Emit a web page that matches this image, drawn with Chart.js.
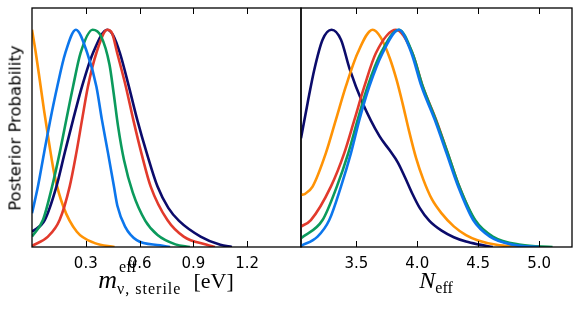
<!DOCTYPE html>
<html>
<head>
<meta charset="utf-8">
<script src="https://cdn.jsdelivr.net/npm/chart.js@4.4.1/dist/chart.umd.min.js"></script>
<style>
  body { margin: 0; background: #fff; }
  #wrap { position: relative; width: 581px; height: 312px; overflow: hidden; }
  #wrap canvas { position: absolute; left: 0; top: 0; }
  .ylab { position: absolute; left: 15px; top: 128px; font-family: "DejaVu Sans"; font-size: 16.5px; color: #000;
          white-space: nowrap; transform: translate(-50%, -50%) rotate(-90deg); }
  .xlab { position: absolute; top: 268px; font-family: "Liberation Serif"; font-size: 24px; line-height: 24px;
          color: #000; white-space: nowrap; transform: translateX(-50%); }
  .m { font-size: 26px; }
  .ss { display: inline-block; position: relative; font-size: 16px; line-height: 16px; }
  .ss .sub { position: relative; top: 6px; letter-spacing: 1px; }
  .ss .sup { position: absolute; left: 2px; top: -16px; }
  .sub2 { position: relative; top: 5px; font-size: 16px; }
  .ev { margin-left: 12px; font-size: 22px; }
</style>
</head>
<body>
<div id="wrap">
  <canvas id="canvas1" width="581" height="312"></canvas>
  <canvas id="canvas2" width="581" height="312"></canvas>
  <div class="ylab">Posterior Probability</div>
  <div class="xlab" style="left:166px"><i class="m">m</i><span class="ss"><span class="sup">eff</span><span class="sub">ν, sterile</span></span><span class="ev">[eV]</span></div>
  <div class="xlab" style="left:436px"><i>N</i><span class="sub2">eff</span></div>
</div>
<script>
// Graduations des deux axes x
const massTicks = [0.3, 0.6, 0.9, 1.2];
const neffTicks = [3.5, 4.0, 4.5, 5.0];

// Panneau gauche : masse effective du sterile (eV)
const massOrangeX = [0, 0.02, 0.043, 0.067, 0.095, 0.127, 0.175, 0.25, 0.35, 0.46];
const massOrangeY = [1.0, 0.9, 0.77, 0.63, 0.48, 0.325, 0.185, 0.07, 0.018, 0];
const massBlueX = [0, 0.033, 0.067, 0.102, 0.141, 0.186, 0.245, 0.308, 0.359, 0.39, 0.424, 0.457, 0.476, 0.519, 0.584, 0.714, 0.77];
const massBlueY = [0.155, 0.278, 0.432, 0.585, 0.739, 0.893, 1.0, 0.893, 0.739, 0.585, 0.432, 0.278, 0.19, 0.094, 0.032, 0.008, 0];
const massGreenX = [0, 0.061, 0.112, 0.154, 0.191, 0.229, 0.271, 0.338, 0.385, 0.432, 0.455, 0.48, 0.513, 0.562, 0.632, 0.70, 0.80, 0.88];
const massGreenY = [0.048, 0.124, 0.278, 0.432, 0.585, 0.739, 0.893, 1.0, 0.97, 0.84, 0.71, 0.555, 0.40, 0.25, 0.12, 0.055, 0.012, 0];
const massNavyX = [0, 0.071, 0.136, 0.182, 0.229, 0.279, 0.34, 0.42, 0.452, 0.49, 0.54, 0.587, 0.64, 0.70, 0.76, 0.82, 0.94, 1.05, 1.115];
const massNavyY = [0.07, 0.124, 0.278, 0.432, 0.585, 0.739, 0.893, 1.0, 0.975, 0.893, 0.739, 0.585, 0.432, 0.278, 0.18, 0.12, 0.048, 0.01, 0];
const massRedX = [0, 0.089, 0.154, 0.21, 0.247, 0.279, 0.312, 0.359, 0.42, 0.446, 0.475, 0.523, 0.565, 0.61, 0.662, 0.755, 0.846, 0.975, 1.02];
const massRedY = [0.005, 0.048, 0.124, 0.278, 0.432, 0.585, 0.739, 0.893, 1.0, 0.985, 0.893, 0.739, 0.585, 0.432, 0.278, 0.124, 0.048, 0.01, 0];

// Panneau droit : N_eff
const neffNavyX = [3.046, 3.1, 3.155, 3.223, 3.297, 3.374, 3.445, 3.55, 3.69, 3.774, 3.84, 3.9, 3.96, 4.02, 4.1, 4.2, 4.3, 4.4, 4.5, 4.62];
const neffNavyY = [0.5, 0.662, 0.816, 0.954, 1.0, 0.954, 0.82, 0.665, 0.51, 0.445, 0.39, 0.32, 0.245, 0.18, 0.12, 0.075, 0.045, 0.025, 0.012, 0];
const neffOrangeX = [3.046, 3.08, 3.141, 3.25, 3.332, 3.414, 3.511, 3.634, 3.70, 3.774, 3.83, 3.88, 3.93, 3.99, 4.05, 4.12, 4.2, 4.3, 4.4, 4.5, 4.65, 4.84];
const neffOrangeY = [0.24, 0.245, 0.278, 0.432, 0.585, 0.739, 0.893, 1.0, 0.965, 0.87, 0.77, 0.66, 0.54, 0.41, 0.31, 0.22, 0.155, 0.095, 0.055, 0.03, 0.01, 0];
const neffRedX = [3.046, 3.127, 3.291, 3.401, 3.484, 3.566, 3.661, 3.826, 3.96, 4.045, 4.155, 4.25, 4.345, 4.47, 4.61, 4.8, 5.0];
const neffRedY = [0.094, 0.124, 0.278, 0.432, 0.585, 0.739, 0.893, 1.0, 0.893, 0.739, 0.585, 0.432, 0.278, 0.124, 0.048, 0.01, 0];
const neffGreenX = [3.046, 3.223, 3.34, 3.434, 3.511, 3.593, 3.702, 3.85, 3.96, 4.045, 4.152, 4.25, 4.345, 4.475, 4.62, 4.85, 5.11];
const neffGreenY = [0.04, 0.124, 0.278, 0.432, 0.585, 0.739, 0.893, 1.0, 0.893, 0.739, 0.585, 0.432, 0.278, 0.124, 0.048, 0.01, 0];
const neffBlueX = [3.046, 3.182, 3.278, 3.374, 3.456, 3.525, 3.607, 3.716, 3.85, 3.952, 4.035, 4.144, 4.24, 4.336, 4.459, 4.596, 4.788, 5.0];
const neffBlueY = [0.005, 0.048, 0.124, 0.278, 0.432, 0.585, 0.739, 0.893, 1.0, 0.893, 0.739, 0.585, 0.432, 0.278, 0.124, 0.048, 0.01, 0];

const NAVY = '#0b0b6b';
const ORANGE = '#ff9305';
const RED = '#e23a2c';
const GREEN = '#0b9a5c';
const BLUE = '#0c76ec';

function points(xs, ys) {
  return xs.map((x, i) => ({ x: x, y: ys[i] }));
}

function serie(xs, ys, color) {
  return {
    data: points(xs, ys),
    borderColor: color,
    borderWidth: 2.6,
    pointRadius: 0,
    fill: false,
    cubicInterpolationMode: 'monotone'
  };
}

// Cadre noir + graduations vers l'interieur (haut et bas)
const framePlugin = {
  id: 'frame',
  afterDraw(chart) {
    const ctx = chart.ctx;
    const a = chart.chartArea;
    const sx = chart.scales.x;
    ctx.save();
    ctx.strokeStyle = '#000';
    ctx.lineWidth = 1.3;
    ctx.strokeRect(a.left, a.top, a.right - a.left, a.bottom - a.top);
    ctx.lineWidth = 1;
    sx.ticks.forEach(t => {
      const px = Math.round(sx.getPixelForValue(t.value)) + 0.5;
      ctx.beginPath();
      ctx.moveTo(px, a.bottom);
      ctx.lineTo(px, a.bottom - 6);
      ctx.moveTo(px, a.top);
      ctx.lineTo(px, a.top + 6);
      ctx.stroke();
    });
    ctx.restore();
  }
};

function makePanel(canvasId, datasets, xmin, xmax, tickValues, padLeft, padRight) {
  const ctx = document.getElementById(canvasId).getContext('2d');
  return new Chart(ctx, {
    type: 'line',
    data: { datasets: datasets },
    options: {
      responsive: false,
      animation: false,
      layout: { padding: { left: padLeft, right: padRight, top: 8, bottom: 0 } },
      plugins: { legend: { display: false }, tooltip: { enabled: false } },
      scales: {
        x: {
          type: 'linear',
          min: xmin,
          max: xmax,
          grid: { display: false },
          border: { display: false },
          afterBuildTicks: s => { s.ticks = tickValues.map(v => ({ value: v })); },
          afterFit: s => { s.height = 65; },
          ticks: {
            autoSkip: false,
            maxRotation: 0,
            padding: 0,
            color: '#000',
            font: { family: 'DejaVu Sans', size: 15 },
            callback: v => v.toFixed(1)
          }
        },
        y: { display: false, min: 0, max: 1.1 }
      }
    },
    plugins: [framePlugin]
  });
}

// GRAPHIQUE 1 : masse
makePanel('canvas1', [
  serie(massBlueX, massBlueY, BLUE),
  serie(massGreenX, massGreenY, GREEN),
  serie(massRedX, massRedY, RED),
  serie(massNavyX, massNavyY, NAVY),
  serie(massOrangeX, massOrangeY, ORANGE)
], 0, 1.5, massTicks, 32, 280);

// GRAPHIQUE 2 : N_eff
makePanel('canvas2', [
  serie(neffBlueX, neffBlueY, BLUE),
  serie(neffGreenX, neffGreenY, GREEN),
  serie(neffRedX, neffRedY, RED),
  serie(neffOrangeX, neffOrangeY, ORANGE),
  serie(neffNavyX, neffNavyY, NAVY)
], 3.046, 5.27, neffTicks, 301, 9);
</script>
</body>
</html>
